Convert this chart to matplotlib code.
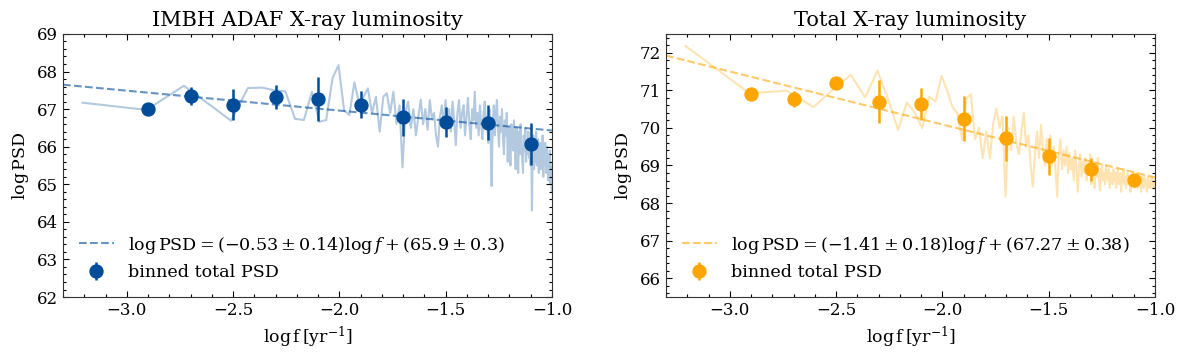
import numpy as np
import matplotlib
matplotlib.use("Agg")
import matplotlib.pyplot as plt
from matplotlib.ticker import MultipleLocator

plt.rcParams['font.family'] = ['DejaVu Serif']
plt.rcParams['mathtext.fontset'] = 'dejavuserif'

# ---------------- data ----------------
f_min = 6.19e-4   # lowest frequency of the periodogram [yr^-1]

bin_logf = [-2.9, -2.7, -2.5, -2.3, -2.1, -1.9, -1.7, -1.5, -1.3, -1.1]

imbh_bin = [67.00, 67.35, 67.12, 67.32, 67.27, 67.12, 66.78, 66.66, 66.64, 66.07]
imbh_err = [0.03, 0.25, 0.42, 0.33, 0.59, 0.36, 0.50, 0.40, 0.46, 0.57]
imbh_slope, imbh_icpt = -0.53, 65.9

tot_bin = [70.90, 70.77, 71.20, 70.70, 70.64, 70.24, 69.72, 69.24, 68.90, 68.62]
tot_err = [0.04, 0.22, 0.06, 0.57, 0.43, 0.60, 0.60, 0.49, 0.30, 0.05]
tot_slope, tot_icpt = -1.41, 67.27

imbh_raw = [
    67.17, 66.98, 67.62, 67.10, 66.69, 67.56, 67.57, 67.50, 67.47, 66.74,
    66.71, 67.46, 66.66, 66.71, 67.82, 68.17, 66.97, 66.84, 67.71, 67.15,
    67.33, 67.55, 66.89, 67.33, 66.40, 67.33, 67.42, 66.89, 67.46, 66.60,
    67.10, 65.45, 66.90, 67.20, 66.50, 67.00, 66.30, 66.80, 67.25, 66.60,
    67.00, 66.45, 67.24, 66.75, 66.90, 66.30, 66.00, 66.80, 67.10, 66.55,
    67.24, 66.60, 67.00, 66.40, 67.20, 66.70, 66.04, 66.90, 67.24, 66.50,
    66.90, 67.10, 66.30, 66.80, 67.30, 66.60, 66.20, 67.00, 66.70, 67.46,
    66.50, 66.90, 66.30, 67.10, 66.60, 66.20, 66.90, 67.20, 66.50, 66.80,
    66.10, 67.00, 66.40, 64.95, 66.60, 67.10, 66.30, 66.90, 67.24, 66.50,
    66.00, 66.80, 66.40, 67.00, 66.20, 65.80, 66.70, 66.30, 66.90, 65.60,
    66.50, 66.10, 65.50, 66.60, 66.20, 65.90, 66.70, 66.00, 65.40, 66.50,
    66.20, 65.30, 66.40, 65.80, 66.60, 66.00, 65.70, 65.30, 66.30, 65.90,
    66.50, 65.60, 66.10, 65.80, 66.40, 65.70, 66.20, 65.50, 66.00, 64.30,
    65.90, 66.30, 65.40, 66.00, 65.60, 66.40, 65.50, 65.90, 66.20, 65.30,
    65.80, 66.10, 65.40, 66.00, 65.60, 66.30, 65.20, 65.90, 65.50, 66.10,
    65.70, 65.30, 66.00, 65.60, 65.10, 65.80, 65.40, 65.90, 65.00, 65.50,
    64.80,
]

tot_raw = [
    72.18, 70.92, 70.99, 70.55, 71.05, 71.41, 70.81, 71.52, 70.75, 69.94,
    70.67, 70.40, 69.99, 70.83, 70.70, 71.38, 71.00, 70.56, 70.39, 69.68,
    70.79, 70.90, 69.70, 70.00, 69.19, 69.90, 69.19, 70.10, 70.52, 70.00,
    70.30, 68.17, 70.00, 69.40, 70.30, 69.60, 69.30, 69.90, 70.40, 69.50,
    69.80, 69.00, 68.44, 69.30, 69.90, 69.20, 70.08, 69.40, 69.00, 69.70,
    69.20, 69.80, 69.00, 69.50, 68.90, 68.17, 69.30, 69.70, 68.90, 69.40,
    69.00, 69.50, 68.80, 69.33, 68.90, 69.20, 68.60, 69.40, 68.90, 68.30,
    69.00, 69.30, 68.70, 69.10, 68.80, 69.20, 68.60, 69.00, 68.80, 69.30,
    68.50, 68.90, 69.10, 68.40, 68.90, 68.70, 69.20, 68.60, 68.34, 68.90,
    69.00, 68.60, 68.80, 68.50, 69.00, 68.70, 68.60, 68.90, 68.40, 68.80,
    68.70, 68.50, 68.90, 68.60, 68.80, 68.40, 68.70, 68.90, 68.50, 68.60,
    68.80, 68.30, 68.70, 68.60, 68.90, 68.50, 68.70, 68.40, 68.60, 68.80,
    68.50, 68.70, 68.60, 68.30, 68.70, 68.50, 68.80, 68.60, 68.40, 68.70,
    68.60, 68.50, 68.80, 68.40, 68.60, 68.70, 68.50, 68.60, 68.30, 68.70,
    68.50, 68.60, 68.40, 68.70, 68.50, 68.60, 68.50, 68.30, 68.60, 68.70,
    68.40, 68.60, 68.50, 68.60, 68.40, 68.70, 68.50, 68.60, 68.40, 68.50,
    68.60,
]

titles = ["IMBH ADAF X-ray luminosity", "Total X-ray luminosity"]
colors = ["#004c99", "#ffa500"]
ylims = [(62, 69), (65.5, 72.5)]

# ---------------- plot ----------------
fig = plt.figure(figsize=(12, 3.57), dpi=100)
ax1 = fig.add_axes([0.0525, 0.168, 0.4075, 0.737])
ax2 = fig.add_axes([0.555, 0.168, 0.4075, 0.737])

panels = [
    (ax1, imbh_raw, imbh_bin, imbh_err, imbh_slope, imbh_icpt, "0.53", "0.14", "65.9", "0.3"),
    (ax2, tot_raw, tot_bin, tot_err, tot_slope, tot_icpt, "1.41", "0.18", "67.27", "0.38"),
]

for i, (ax, raw, b, e, s, c, s_s, s_e, c_s, c_e) in enumerate(panels):
    col = colors[i]
    k = np.arange(1, len(raw) + 1)
    logf = np.log10(f_min * k)
    ax.plot(logf, raw, color=col, alpha=0.3, lw=1.5, zorder=1)
    xx = np.array([-3.3, -1.0])
    lab = (r"$\log\mathrm{PSD} = (-%s \pm %s)\log f + (%s \pm %s)$"
           % (s_s, s_e, c_s, c_e))
    ax.plot(xx, s * xx + c, ls='--', color=col, alpha=0.6, lw=1.5,
            label=lab, zorder=2)
    ax.errorbar(bin_logf, b, yerr=e, fmt='o', color=col, ms=9.3,
                elinewidth=1.8, capsize=0, label='binned total PSD', zorder=3)
    ax.set_xlim(-3.3, -1.0)
    ax.set_ylim(*ylims[i])
    ax.xaxis.set_major_locator(MultipleLocator(0.5))
    ax.xaxis.set_minor_locator(MultipleLocator(0.1))
    ax.yaxis.set_major_locator(MultipleLocator(1))
    ax.yaxis.set_minor_locator(MultipleLocator(0.2))
    ax.tick_params(which='both', direction='in', top=True, right=True,
                   labelsize=12, width=0.8)
    ax.tick_params(which='major', length=4)
    ax.tick_params(which='minor', length=2)
    for sp in ax.spines.values():
        sp.set_linewidth(0.8)
        sp.set_color('#333333')
    ax.set_title(titles[i], fontsize=15)
    ax.set_xlabel(r"$\log\mathrm{f}\,[\mathrm{yr}^{-1}]$", fontsize=12.5)
    ax.set_ylabel(r"$\log\mathrm{PSD}$", fontsize=12.5)
    ax.legend(loc='lower left', frameon=False, fontsize=12.6,
              bbox_to_anchor=(0.0, 0.0), handlelength=2.0)

fig.savefig("out.png", dpi=100)
